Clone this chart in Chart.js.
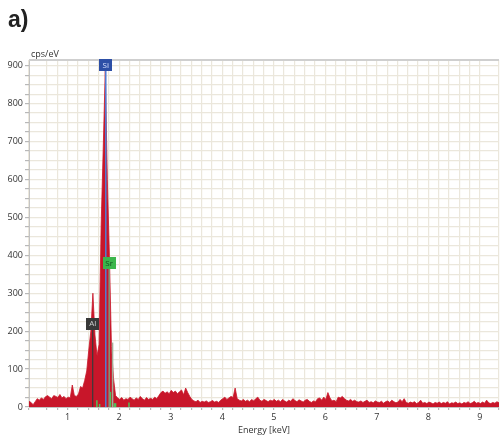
<!DOCTYPE html>
<html>
<head>
<meta charset="utf-8">
<script src="https://cdn.jsdelivr.net/npm/chart.js@4/dist/chart.umd.min.js"></script>
<style>
  html, body { margin: 0; padding: 0; background: #fff; }
  canvas { display: block; }
</style>
</head>
<body>
<canvas id="edsChart" width="501" height="436"></canvas>
<script>
// EDS spectrum, channels start at 0.25 keV and are 0.04 keV apart
const energyStart = 0.25;
const energyStep = 0.04;
const counts = [
  15, 12, 6, 14, 22, 18, 24, 20, 27, 30,
  26, 22, 30, 28, 25, 33, 24, 28, 22, 26,
  24, 58, 30, 28, 34, 54, 50, 70, 95, 150,
  200, 300, 190, 135, 165, 480, 680, 890, 600, 400,
  160, 75, 30, 24, 20, 25, 18, 22, 20, 26,
  22, 18, 24, 20, 28, 22, 18, 25, 20, 23,
  20, 26, 22, 30, 38, 42, 36, 40, 35, 44,
  38, 42, 35, 40, 45, 32, 50, 38, 28, 20,
  16, 14, 18, 12, 15, 13, 16, 12, 14, 17,
  13, 15, 12, 18, 22, 26, 20, 24, 28, 25,
  50, 22, 18, 16, 20, 15, 18, 14, 20, 16,
  22, 26, 18, 15, 20, 17, 14, 18, 16, 20,
  15, 18, 14, 20, 16, 13, 18, 15, 22, 17,
  14, 19, 16, 13, 18, 20, 15, 12, 16, 14,
  22, 24, 18, 26, 20, 38, 24, 16, 18, 14,
  26, 24, 28, 22, 18, 16, 20, 15, 18, 14,
  13, 16, 12, 15, 18, 12, 14, 11, 16, 13,
  12, 15, 10, 14, 16, 12, 18, 14, 11, 13,
  20, 14, 22, 12, 10, 13, 11, 14, 9, 12,
  18, 10, 12, 9, 13, 11, 8, 12, 10, 13,
  9, 12, 10, 14, 8, 11, 10, 13, 9, 11,
  8, 12, 10, 14, 9, 11, 15, 10, 12, 9,
  13, 10, 18, 11, 9, 12, 10, 14, 11
];

// element markers
const elementNames = ['Si', 'Sr', 'Al'];
const elementEnergies = [1.74, 1.806, 1.486];
const elementLineTops = [886, 364, 204];
const elementTagValues = [902, 380, 220];

// small Sr family lines at the bottom
const minorEnergies = [1.567, 1.62, 1.83, 1.872, 1.905, 1.93, 2.19];
const minorHeights = [18, 8, 40, 170, 10, 10, 12];

const xMin = 0.25, xMax = 9.37;
const yMin = 0, yMax = 915;
const yLabelEvery = 100;

const tagStyle = {
  Si: { box: '#2d4fa6', text: '#d8e2ff', line: '#4f7fd6', width: 1.5 },
  Sr: { box: '#3cb64c', text: '#14501e', line: '#80977a', width: 1.5 },
  Al: { box: '#383838', text: '#d0d0d0', line: '#3a3a3a', width: 1.2 }
};

const spectrum = counts.map((c, i) => ({ x: energyStart + i * energyStep, y: c }));

const datasets = [];
elementNames.forEach((name, i) => {
  datasets.push({
    data: [{ x: elementEnergies[i], y: 0 }, { x: elementEnergies[i], y: elementLineTops[i] }],
    borderColor: tagStyle[name].line,
    borderWidth: tagStyle[name].width,
    pointRadius: 0,
    fill: false,
    order: 1
  });
});
minorEnergies.forEach((e, i) => {
  datasets.push({
    data: [{ x: e, y: 0 }, { x: e, y: minorHeights[i] }],
    borderColor: minorHeights[i] > 100 ? '#a3ae98' : '#4cc25a',
    borderWidth: 1.5,
    pointRadius: 0,
    fill: false,
    order: 1
  });
});
datasets.push({
  data: spectrum,
  borderColor: '#c8162a',
  backgroundColor: '#c8162a',
  borderWidth: 0.8,
  pointRadius: 0,
  fill: 'origin',
  tension: 0,
  order: 5
});

const textPlugin = {
  id: 'texts',
  beforeDatasetsDraw(chart) {
    // top frame line of the plot
    const ctx = chart.ctx, a = chart.chartArea;
    ctx.save();
    ctx.strokeStyle = '#cfcfcf';
    ctx.lineWidth = 2;
    ctx.beginPath();
    ctx.moveTo(a.left, a.top);
    ctx.lineTo(a.right, a.top);
    ctx.stroke();
    ctx.restore();
  },
  afterDatasetsDraw(chart) {
    const ctx = chart.ctx;
    const xs = chart.scales.x, ys = chart.scales.y;
    ctx.save();
    ctx.textAlign = 'center';
    ctx.textBaseline = 'middle';
    ctx.font = '8px "Open Sans", sans-serif';
    elementNames.forEach((name, i) => {
      const px = xs.getPixelForValue(elementEnergies[i]);
      const py = ys.getPixelForValue(elementTagValues[i]);
      ctx.fillStyle = tagStyle[name].box;
      ctx.fillRect(Math.round(px - 6.5), Math.round(py - 6), 13, 12);
      ctx.fillStyle = tagStyle[name].text;
      ctx.fillText(name, px, py + 0.5);
    });
    ctx.restore();
  },
  afterDraw(chart) {
    const ctx = chart.ctx;
    ctx.save();
    ctx.fillStyle = '#222';
    ctx.textBaseline = 'alphabetic';
    ctx.textAlign = 'left';
    ctx.font = 'bold 23px "Liberation Sans", Arial, sans-serif';
    ctx.fillText('a)', 8, 27);
    ctx.font = '9px "Open Sans", sans-serif';
    ctx.fillStyle = '#333';
    ctx.fillText('cps/eV', 31, 57);
    ctx.restore();
  }
};

new Chart(document.getElementById('edsChart'), {
  type: 'line',
  data: { datasets: datasets },
  options: {
    responsive: false,
    animation: false,
    devicePixelRatio: 1,
    layout: { padding: { top: 60, right: 0, bottom: 0, left: 0 } },
    plugins: { legend: { display: false }, tooltip: { enabled: false } },
    scales: {
      x: {
        type: 'linear',
        min: xMin,
        max: xMax,
        afterFit: s => { s.height = 29; },
        border: { color: '#c4c4c4' },
        grid: { color: '#ebe7dc', tickColor: '#b8b8b8', tickLength: 3, lineWidth: 1.2 },
        ticks: {
          stepSize: 0.2,
          autoSkip: false,
          maxRotation: 0,
          padding: 2,
          color: '#333',
          font: { family: 'Open Sans', size: 9 },
          callback: v => Math.abs(v - Math.round(v)) < 1e-6 ? String(Math.round(v)) : ''
        },
        title: {
          display: true,
          text: 'Energy [keV]',
          color: '#333',
          font: { family: 'Open Sans', size: 9 },
          padding: { top: 0, bottom: 0 }
        }
      },
      y: {
        min: yMin,
        max: yMax,
        afterFit: s => { s.width = 29; },
        border: { color: '#c4c4c4' },
        grid: { color: '#ebe7dc', lineWidth: 1.2, tickColor: '#b8b8b8', tickLength: 4 },
        ticks: {
          stepSize: 25,
          includeBounds: false,
          autoSkip: false,
          padding: 2,
          color: '#333',
          font: { family: 'Open Sans', size: 9 },
          callback: v => v % yLabelEvery === 0 ? String(v) : ''
        }
      }
    }
  },
  plugins: [textPlugin]
});
</script>
</body>
</html>
